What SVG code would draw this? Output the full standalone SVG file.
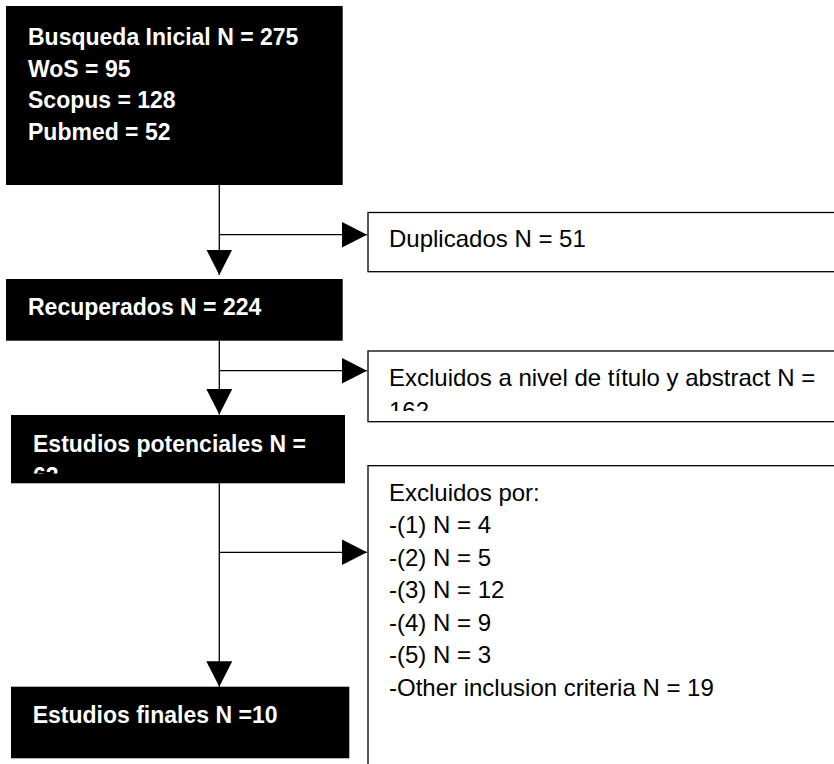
<svg xmlns="http://www.w3.org/2000/svg" width="834" height="764" viewBox="0 0 834 764">
<style>
.dark{fill:#000;stroke:none}
.light{fill:#fff;stroke:#000;stroke-width:1.3}
.bt{font-family:"Liberation Sans",Arial,sans-serif;font-weight:bold;font-size:23px;fill:#fff}
.rt{font-family:"Liberation Sans",Arial,sans-serif;font-size:24px;fill:#000}
.conn line{stroke:#000;stroke-width:1.3;fill:none;marker-end:url(#arr)}
</style>
<defs>
<marker id="arr" markerUnits="userSpaceOnUse" markerWidth="27" markerHeight="27" refX="25.5" refY="13" orient="auto">
<path d="M0,0 L25.5,13 L0,26 Z" fill="#000"/>
</marker>
<clipPath id="c1"><rect x="368" y="351" width="470" height="60"/></clipPath>
<clipPath id="c2"><rect x="11" y="415" width="334" height="58.5"/></clipPath>
</defs>
<g id="busqueda">
<rect class="dark" x="6" y="6" width="336.7" height="179"/>
<text class="bt" x="28" y="45">Busqueda Inicial N = 275</text>
<text class="bt" x="28" y="76.7">WoS = 95</text>
<text class="bt" x="28" y="108.4">Scopus = 128</text>
<text class="bt" x="28" y="140">Pubmed = 52</text>
</g>
<g id="duplicados">
<rect class="light" x="368" y="212.5" width="480" height="59.2"/>
<text class="rt" x="389" y="247">Duplicados N = 51</text>
</g>
<g id="recuperados">
<rect class="dark" x="6" y="279" width="336.7" height="61.7"/>
<text class="bt" x="28" y="315">Recuperados N = 224</text>
</g>
<g id="excluidos-titulo">
<rect class="light" x="368" y="351" width="480" height="70.7"/>
<g clip-path="url(#c1)">
<text class="rt" x="389" y="386">Excluidos a nivel de título y abstract N =</text>
<text class="rt" x="389" y="418.5">162</text>
</g>
</g>
<g id="potenciales">
<rect class="dark" x="11" y="415" width="334" height="68.3"/>
<g clip-path="url(#c2)">
<text class="bt" x="33" y="451.7">Estudios potenciales N =</text>
<text class="bt" x="33" y="484">62</text>
</g>
</g>
<g id="excluidos-por">
<rect class="light" x="368" y="465.7" width="480" height="320"/>
<text class="rt" x="389" y="500.5">Excluidos por:</text>
<text class="rt" x="389" y="533.2">-(1) N = 4</text>
<text class="rt" x="389" y="565.8">-(2) N = 5</text>
<text class="rt" x="389" y="598.2">-(3) N = 12</text>
<text class="rt" x="389" y="630.5">-(4) N = 9</text>
<text class="rt" x="389" y="663.2">-(5) N = 3</text>
<text class="rt" x="389" y="695.8">-Other inclusion criteria N = 19</text>
</g>
<g id="finales">
<rect class="dark" x="11" y="686.7" width="338.3" height="71.6"/>
<text class="bt" x="32.7" y="723.3">Estudios finales N =10</text>
</g>
<g id="connectors" class="conn">
<line x1="219.3" y1="185" x2="219.3" y2="275"/>
<line x1="219.3" y1="234.7" x2="367" y2="234.7"/>
<line x1="219.3" y1="340.7" x2="219.3" y2="414.5"/>
<line x1="219.3" y1="370.7" x2="367" y2="370.7"/>
<line x1="219.3" y1="483.3" x2="219.3" y2="686.7"/>
<line x1="219.3" y1="552.3" x2="367" y2="552.3"/>
</g>
</svg>
